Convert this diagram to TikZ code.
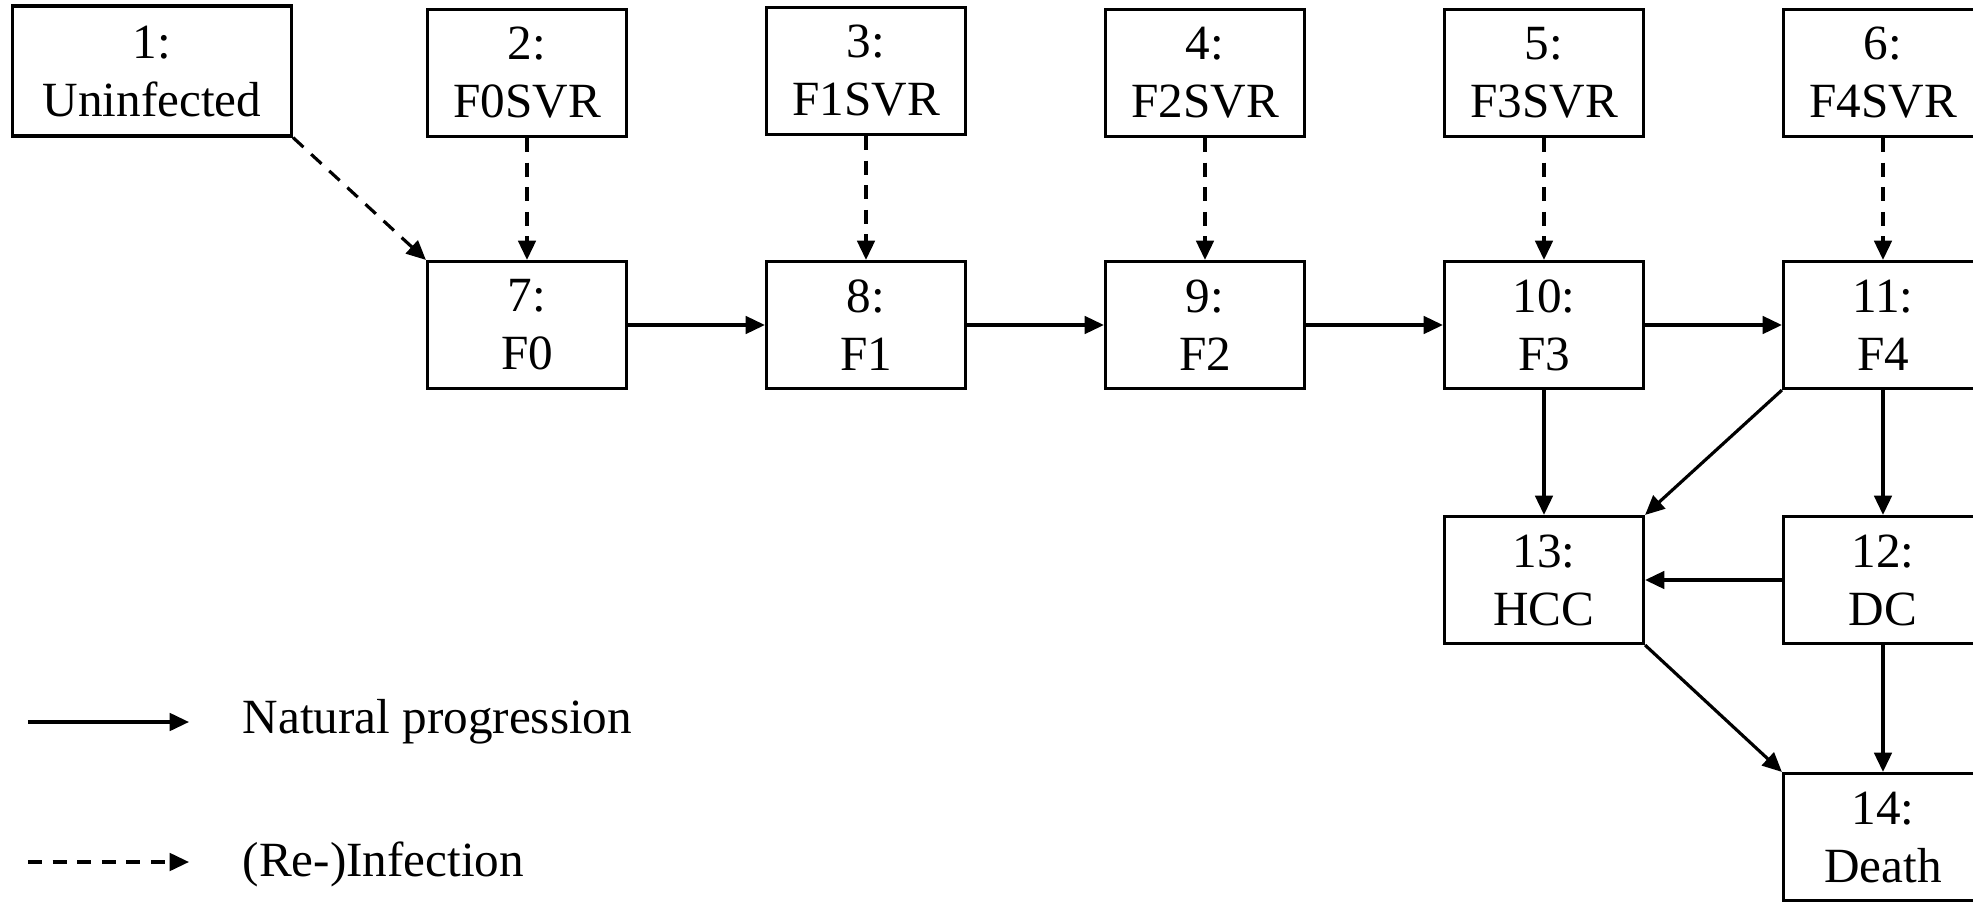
\documentclass[tikz,border=0pt]{standalone}
\usepackage{fontspec}
\setmainfont{Liberation Serif}
\usetikzlibrary{arrows.meta}
\tikzset{
	compartment/.style={draw,line width=0.9pt,minimum width=1.99cm,minimum height=1.27cm,align=center,inner sep=0pt,font=\fontsize{14}{16.5}\selectfont},
	prog/.style={line width=0.9pt,-{Triangle[length=5.5pt,width=5pt]}},
	infect/.style={prog,dash pattern=on 4pt off 3pt},
}
\begin{document}
\begin{tikzpicture}
			\useasboundingbox (0,0) rectangle (19.73,9.05);
			\clip (0,0) rectangle (19.73,9.05);
			\node[compartment,minimum width=2.79cm,minimum height=1.30cm] (n1) at (1.52,8.34) {1:\\Uninfected};
			\node[compartment] (n2) at (5.27,8.32) {2:\\F0SVR};
			\node[compartment] (n3) at (8.66,8.34) {3:\\F1SVR};
			\node[compartment] (n4) at (12.05,8.32) {4:\\F2SVR};
			\node[compartment] (n5) at (15.44,8.32) {5:\\F3SVR};
			\node[compartment] (n6) at (18.83,8.32) {6:\\F4SVR};
			\node[compartment] (n7) at (5.27,5.80) {7:\\F0};
			\node[compartment] (n8) at (8.66,5.80) {8:\\F1};
			\node[compartment] (n9) at (12.05,5.80) {9:\\F2};
			\node[compartment] (n10) at (15.44,5.80) {10:\\F3};
			\node[compartment] (n11) at (18.83,5.80) {11:\\F4};
			\node[compartment] (n13) at (15.44,3.25) {13:\\HCC};
			\node[compartment] (n12) at (18.83,3.25) {12:\\DC};
			\node[compartment] (n14) at (18.83,0.68) {14:\\Death};
			\draw[infect] (n1.south east) -- (n7.north west);
			\draw[infect] (n2) -- (n7);
			\draw[infect] (n3) -- (n8);
			\draw[infect] (n4) -- (n9);
			\draw[infect] (n5) -- (n10);
			\draw[infect] (n6) -- (n11);
			\draw[prog] (n7) -- (n8);
			\draw[prog] (n8) -- (n9);
			\draw[prog] (n9) -- (n10);
			\draw[prog] (n10) -- (n11);
			\draw[prog] (n10) -- (n13);
			\draw[prog] (n11.south west) -- (n13.north east);
			\draw[prog] (n11) -- (n12);
			\draw[prog] (n12) -- (n13);
			\draw[prog] (n13.south east) -- (n14.north west);
			\draw[prog] (n12) -- (n14);
			\coordinate (p0) at (0.28,1.83);
			\coordinate (p1) at (1.89,1.83);
			\coordinate (q0) at (0.28,0.43);
			\coordinate (q1) at (1.89,0.43);
			\draw[prog] (p0) -- (p1);
			\draw[infect] (q0) -- (q1);
			\node[anchor=west,inner sep=0pt,font=\fontsize{14}{16}\selectfont] (lp) at (2.42,1.83) {Natural progression};
			\node[anchor=west,inner sep=0pt,font=\fontsize{14}{16}\selectfont] (li) at (2.42,0.41) {(Re-)Infection};
		\end{tikzpicture}
\end{document}
